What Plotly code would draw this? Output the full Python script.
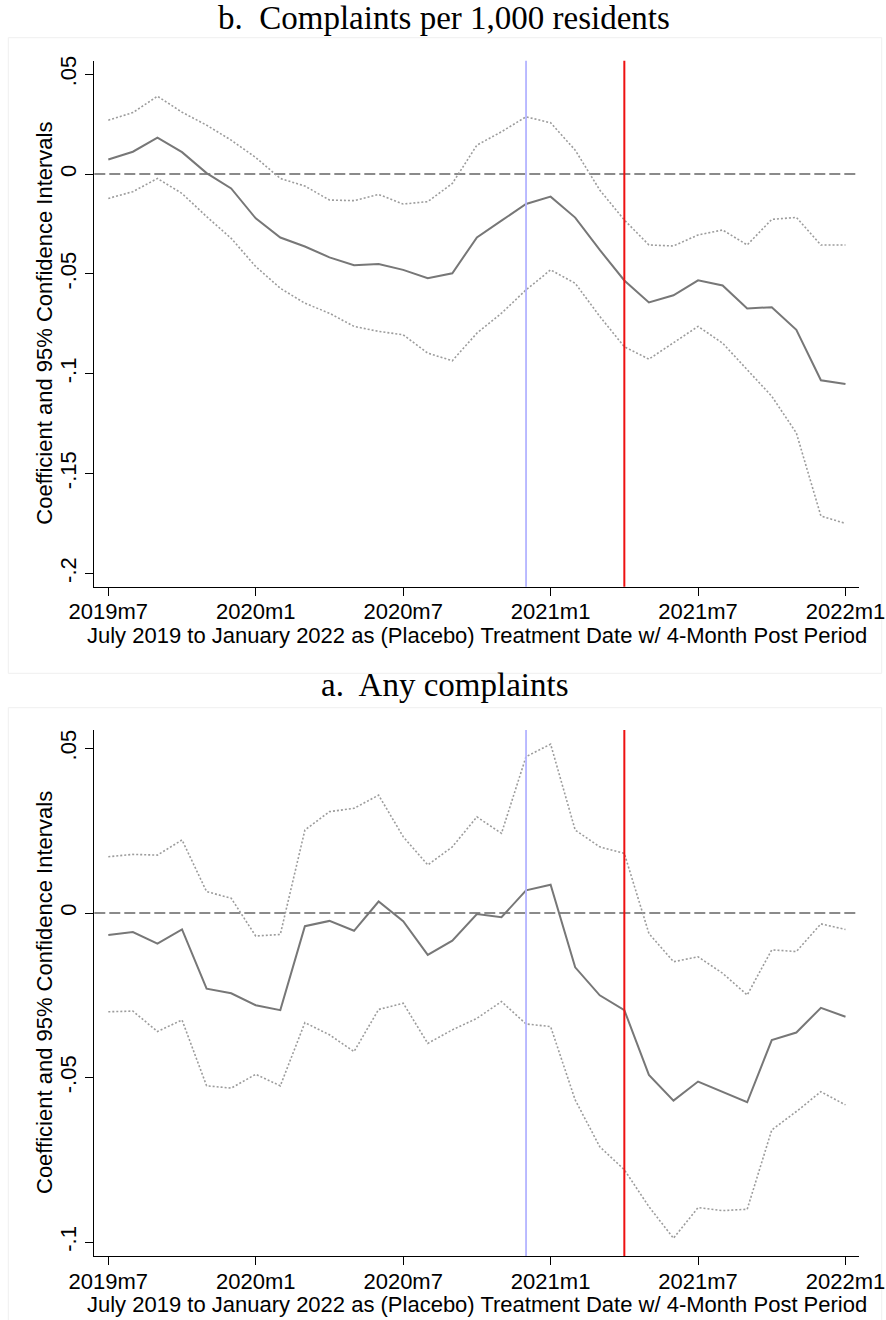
import plotly.graph_objects as go

# ---------------- data ----------------
months = list(range(31))  # 0 = 2019m7 ... 30 = 2022m1
tick_vals = [0, 6, 12, 18, 24, 30]
tick_text = ["2019m7", "2020m1", "2020m7", "2021m1", "2021m7", "2022m1"]

placebo_line = 17   # 2020m12
treat_line = 21     # 2021m4

# Panel b: Complaints per 1,000 residents
b_coef = [0.0073, 0.0112, 0.0183, 0.0110, 0.0005, -0.0072, -0.0222, -0.0318, -0.0363, -0.0417,
          -0.0457, -0.0450, -0.0480, -0.0522, -0.0497, -0.0317, -0.0233, -0.0150, -0.0113, -0.0218,
          -0.0380, -0.0533, -0.0643, -0.0607, -0.0532, -0.0558, -0.0673, -0.0667, -0.0780, -0.1033,
          -0.1052]
b_upper = [0.0270, 0.0308, 0.0390, 0.0310, 0.0245, 0.0170, 0.0083, -0.0022, -0.0060, -0.0130,
           -0.0133, -0.0102, -0.0150, -0.0138, -0.0047, 0.0145, 0.0212, 0.0287, 0.0257, 0.0120,
           -0.0080, -0.0230, -0.0355, -0.0360, -0.0305, -0.0280, -0.0355, -0.0227, -0.0217, -0.0355,
           -0.0355]
b_lower = [-0.0122, -0.0088, -0.0022, -0.0097, -0.0213, -0.0322, -0.0463, -0.0572, -0.0647, -0.0697,
           -0.0763, -0.0788, -0.0805, -0.0897, -0.0935, -0.0797, -0.0697, -0.0580, -0.0480, -0.0547,
           -0.0713, -0.0865, -0.0927, -0.0847, -0.0763, -0.0847, -0.0980, -0.1113, -0.1297, -0.1713,
           -0.1750]
b_yticks = [0.05, 0, -0.05, -0.1, -0.15, -0.2]
b_yticklabels = [".05", "0", "-.05", "-.1", "-.15", "-.2"]

# Panel a: Any complaints
a_coef = [-0.0067, -0.0058, -0.0093, -0.0050, -0.0230, -0.0244, -0.0280, -0.0295, -0.0040, -0.0024,
          -0.0054, 0.0035, -0.0025, -0.0127, -0.0084, -0.0003, -0.0013, 0.0069, 0.0086, -0.0165,
          -0.0250, -0.0295, -0.0492, -0.0570, -0.0512, -0.0543, -0.0575, -0.0386, -0.0363, -0.0288,
          -0.0315]
a_upper = [0.0171, 0.0178, 0.0176, 0.0222, 0.0065, 0.0045, -0.0070, -0.0065, 0.0252, 0.0308,
           0.0318, 0.0358, 0.0232, 0.0146, 0.0201, 0.0292, 0.0242, 0.0475, 0.0513, 0.0252,
           0.0201, 0.0181, -0.0062, -0.0148, -0.0133, -0.0183, -0.0249, -0.0112, -0.0117, -0.0033,
           -0.0050]
a_lower = [-0.0300, -0.0298, -0.0360, -0.0325, -0.0525, -0.0532, -0.0490, -0.0525, -0.0333, -0.0370,
           -0.0421, -0.0293, -0.0274, -0.0396, -0.0355, -0.0320, -0.0269, -0.0337, -0.0345, -0.0568,
           -0.0710, -0.0780, -0.0892, -0.0988, -0.0895, -0.0904, -0.0900, -0.0659, -0.0603, -0.0543,
           -0.0583]
a_yticks = [0.05, 0, -0.05, -0.1]
a_yticklabels = [".05", "0", "-.05", "-.1"]

panel_titles = ["b.\u00a0 Complaints per 1,000 residents", "a.\u00a0 Any complaints"]
y_title = "Coefficient and 95% Confidence Intervals"
x_title = "July 2019 to January 2022 as (Placebo) Treatment Date w/ 4-Month Post Period"

# ---------------- layout helpers ----------------
W, H = 886, 1320
def py(pix):
    return 1 - pix / H
def px(pix):
    return pix / W

SANS = "Liberation Sans"
SERIF = "Liberation Serif"
LINE_GRAY = "#777777"
CI_GRAY = "#9c9c9c"

fig = go.Figure()

panels = [
    dict(coef=b_coef, up=b_upper, lo=b_lower, xa="x", ya="y", yt=b_yticks, ytl=b_yticklabels,
         yrange=[-0.2067, 0.0568], top=60.7, bottom=586.7, title_y=18, box_top=37.7),
    dict(coef=a_coef, up=a_upper, lo=a_lower, xa="x2", ya="y2", yt=a_yticks, ytl=a_yticklabels,
         yrange=[-0.1042, 0.0556], top=730, bottom=1256, title_y=685, box_top=707.7),
]

for i, p in enumerate(panels):
    for series, color, dash, width in [(p["up"], CI_GRAY, "2px,2px", 1.6),
                                       (p["lo"], CI_GRAY, "2px,2px", 1.6),
                                       (p["coef"], LINE_GRAY, "solid", 2.0)]:
        fig.add_trace(go.Scatter(x=months, y=series, mode="lines", xaxis=p["xa"], yaxis=p["ya"],
                                 line=dict(color=color, width=width, dash=dash),
                                 showlegend=False, hoverinfo="skip"))
    suffix = "" if i == 0 else "2"
    xr = "x" + suffix
    yr = "y" + suffix
    # zero reference line
    fig.add_shape(type="line", xref=xr + " domain", yref=yr, x0=0, x1=1, y0=0, y1=0,
                  line=dict(color="#8a8a8a", width=2, dash="11px,4px"), layer="below")
    # placebo and treatment lines
    fig.add_shape(type="line", xref=xr, yref=yr + " domain", x0=placebo_line, x1=placebo_line,
                  y0=0, y1=1, line=dict(color="#b4b4ff", width=1.8), layer="above")
    fig.add_shape(type="line", xref=xr, yref=yr + " domain", x0=treat_line, x1=treat_line,
                  y0=0, y1=1, line=dict(color="#ee1111", width=2), layer="above")
    # faint graph-region outline
    fig.add_shape(type="rect", xref="paper", yref="paper", x0=px(8.3), x1=px(881.7),
                  y0=py(p["box_top"] + 635.6), y1=py(p["box_top"]),
                  line=dict(color="#efefef", width=1), fillcolor="rgba(0,0,0,0)", layer="below")

    dom_y = [py(p["bottom"]), py(p["top"])]
    xaxis = dict(domain=[px(94.3), px(859)], range=[-0.57, 30.55], anchor=yr, automargin=False,
                 tickmode="array", tickvals=tick_vals, ticktext=tick_text,
                 showline=True, linecolor="black", linewidth=1.3, ticks="outside", ticklen=8,
                 tickwidth=1.3, tickcolor="black", showgrid=False, zeroline=False,
                 ticklabelstandoff=-3,
                 tickfont=dict(family=SANS, size=22, color="black"))
    yaxis = dict(domain=dom_y, range=p["yrange"], anchor=xr, automargin=False,
                 tickmode="array", tickvals=p["yt"], ticktext=p["ytl"], tickangle=-90,
                 showline=True, linecolor="black", linewidth=1.3, ticks="outside", ticklen=8,
                 tickwidth=1.3, tickcolor="black", showgrid=False, zeroline=False,
                 tickfont=dict(family=SANS, size=22, color="black"))
    fig.update_layout(**{"xaxis" + suffix: xaxis, "yaxis" + suffix: yaxis})

    # panel title
    fig.add_annotation(text=panel_titles[i], xref="paper", yref="paper", x=px(444), y=py(p["title_y"]),
                       xanchor="center", yanchor="middle", showarrow=False,
                       font=dict(family=SERIF, size=33, color="black"))
    # y title
    fig.add_annotation(text=y_title, xref="paper", yref="paper", x=px(45),
                       y=(dom_y[0] + dom_y[1]) / 2, textangle=-90,
                       xanchor="center", yanchor="middle", showarrow=False,
                       font=dict(family=SANS, size=22, color="black"))
    # x title
    fig.add_annotation(text=x_title, xref="paper", yref="paper", x=px(476.7),
                       y=py(p["bottom"] + 48.5), xanchor="center", yanchor="middle", showarrow=False,
                       font=dict(family=SANS, size=22, color="black"))

fig.update_layout(width=W, height=H, margin=dict(l=0, r=0, t=0, b=0, autoexpand=False),
                  paper_bgcolor="white", plot_bgcolor="white")

fig.write_html("out.html", config={"displayModeBar": False},
               post_script="document.body.style.margin='0px';")
